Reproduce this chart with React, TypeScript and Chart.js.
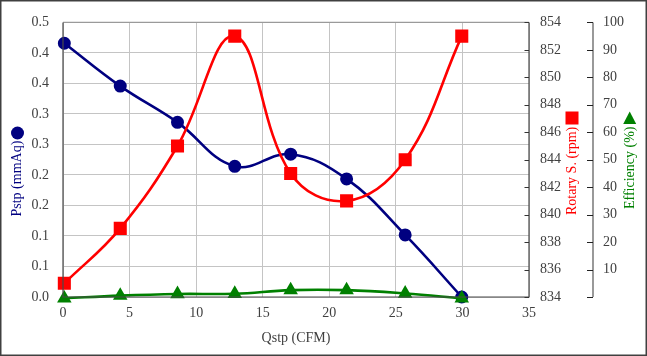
import React, { useEffect, useRef } from "react";
import { Chart, registerables } from "chart.js";

Chart.register(...registerables);

// ---- data ----
const qstp = [0.1, 4.3, 8.6, 12.9, 17.1, 21.3, 25.7, 29.95];
const pstp = [0.462, 0.384, 0.318, 0.238, 0.26, 0.215, 0.113, 0.0];
const rotarySpeed = [835, 839, 845, 853, 843, 841, 844, 853];
const efficiency = [-0.5, 0.5, 1.1, 1.2, 2.5, 2.5, 1.3, -0.5];

const pstpTickLabels = ["0.0", "0.1", "0.1", "0.2", "0.2", "0.3", "0.3", "0.4", "0.4", "0.5"];
const effTickLabels = ["", "10", "20", "30", "40", "50", "60", "70", "80", "90", "100"];

const FONT = "'Liberation Serif', 'Times New Roman', serif";
const NAVY = "#000080";
const RED = "#FF0000";
const GREEN = "#008000";
const TEXT = "#404040";
const GRID = "#c4c4c4";

function vText(ctx: CanvasRenderingContext2D, text: string, cx: number, bottomY: number, color: string) {
  ctx.save();
  ctx.translate(cx, bottomY);
  ctx.rotate(-Math.PI / 2);
  ctx.fillStyle = color;
  ctx.font = `14px ${FONT}`;
  ctx.textAlign = "left";
  ctx.textBaseline = "middle";
  ctx.fillText(text, 0, 0);
  ctx.restore();
}

const decor = {
  id: "decor",
  afterDraw(chart: any) {
    const ctx: CanvasRenderingContext2D = chart.ctx;
    const a = chart.chartArea;
    ctx.save();
    // plot border: top lighter, others dark
    ctx.strokeStyle = "#9a9a9a";
    ctx.lineWidth = 1.2;
    ctx.beginPath();
    ctx.moveTo(a.left, a.top);
    ctx.lineTo(a.right, a.top);
    ctx.stroke();
    ctx.strokeStyle = "#4a4a4a";
    ctx.beginPath();
    ctx.moveTo(a.right, a.top);
    ctx.lineTo(a.right, a.bottom);
    ctx.lineTo(a.left, a.bottom);
    ctx.lineTo(a.left, a.top);
    ctx.stroke();

    // rpm inward ticks
    const rpm = chart.scales.rpm;
    ctx.strokeStyle = "#333";
    ctx.lineWidth = 1;
    ctx.beginPath();
    rpm.ticks.forEach((t: any) => {
      const y = Math.round(rpm.getPixelForValue(t.value)) + 0.5;
      ctx.moveTo(a.right - 4.5, y);
      ctx.lineTo(a.right, y);
    });
    ctx.stroke();

    // efficiency axis line and ticks
    const eff = chart.scales.eff;
    const ex = eff.left;
    ctx.strokeStyle = "#808080";
    ctx.lineWidth = 1.6;
    ctx.beginPath();
    ctx.moveTo(ex, eff.getPixelForValue(100));
    ctx.lineTo(ex, eff.getPixelForValue(0));
    ctx.stroke();
    ctx.strokeStyle = "#222";
    ctx.lineWidth = 1.2;
    ctx.beginPath();
    eff.ticks.forEach((t: any) => {
      const y = Math.round(eff.getPixelForValue(t.value)) + 0.5;
      ctx.moveTo(ex - 6, y);
      ctx.lineTo(ex, y);
    });
    ctx.stroke();

    // axis titles with markers
    vText(ctx, "Pstp (mmAq)", 17.5, 216.5, NAVY);
    ctx.fillStyle = NAVY;
    ctx.beginPath();
    ctx.arc(17.5, 133, 6.5, 0, Math.PI * 2);
    ctx.fill();

    vText(ctx, "Rotary S. (rpm)", 572, 215, RED);
    ctx.fillStyle = RED;
    ctx.fillRect(565.5, 111.5, 13, 13);

    vText(ctx, "Efficiency (%)", 630, 209, GREEN);
    ctx.fillStyle = GREEN;
    ctx.beginPath();
    ctx.moveTo(629.7, 111.5);
    ctx.lineTo(636.2, 124);
    ctx.lineTo(623.2, 124);
    ctx.closePath();
    ctx.fill();

    ctx.fillStyle = TEXT;
    ctx.font = `14px ${FONT}`;
    ctx.textAlign = "center";
    ctx.textBaseline = "middle";
    ctx.fillText("Qstp (CFM)", (a.left + a.right) / 2, 338);

    // outer frame
    ctx.strokeStyle = "#404040";
    ctx.lineWidth = 1.5;
    ctx.strokeRect(0.75, 0.75, chart.width - 1.5, chart.height - 1.5);
    ctx.restore();
  },
};

export default function App() {
  const ref = useRef<HTMLCanvasElement | null>(null);

  useEffect(() => {
    document.body.style.margin = "0";
    const canvas = ref.current;
    if (!canvas) return;
    const tickFont = { family: FONT, size: 14 };
    const chart = new Chart(canvas, {
      type: "line",
      data: {
        datasets: [
          {
            label: "Pstp",
            data: qstp.map((x, i) => ({ x, y: pstp[i] })),
            yAxisID: "y",
            borderColor: NAVY,
            backgroundColor: NAVY,
            borderWidth: 2.6,
            pointStyle: "circle",
            pointRadius: 5.2,
            tension: 0.4,
            order: 2,
            clip: false,
          },
          {
            label: "Rotary S.",
            data: qstp.map((x, i) => ({ x, y: rotarySpeed[i] })),
            yAxisID: "rpm",
            borderColor: RED,
            backgroundColor: RED,
            borderWidth: 2.6,
            pointStyle: "rect",
            pointRadius: 7.4,
            tension: 0.4,
            order: 1,
            clip: false,
          },
          {
            label: "Efficiency",
            data: qstp.map((x, i) => ({ x, y: efficiency[i] })),
            yAxisID: "eff",
            borderColor: GREEN,
            backgroundColor: GREEN,
            borderWidth: 2.6,
            pointStyle: "triangle",
            pointRadius: 5.8,
            tension: 0.4,
            order: 0,
            clip: false,
          },
        ],
      },
      options: {
        responsive: false,
        animation: false,
        devicePixelRatio: 1,
        layout: { padding: { top: 18, left: 0, right: 0, bottom: 0 } },
        plugins: { legend: { display: false }, tooltip: { enabled: false } },
        scales: {
          x: {
            type: "linear",
            min: 0,
            max: 35,
            ticks: { stepSize: 5, color: TEXT, font: tickFont, padding: 8 },
            grid: { color: GRID, drawTicks: false },
            border: { display: false },
            afterFit: (s: any) => {
              s.height = 59;
            },
          },
          y: {
            type: "linear",
            position: "left",
            min: 0,
            max: 0.5,
            afterBuildTicks: (s: any) => {
              s.ticks = pstpTickLabels.map((_, i) => ({ value: (i * 0.5) / 9 }));
            },
            ticks: {
              color: TEXT,
              font: tickFont,
              padding: 14,
              callback: (_v: any, i: number) => pstpTickLabels[i],
            },
            grid: { color: GRID, drawTicks: false },
            border: { display: false },
            afterFit: (s: any) => {
              s.width = 63;
            },
          },
          rpm: {
            type: "linear",
            position: "right",
            weight: 0,
            min: 834,
            max: 854,
            ticks: { stepSize: 2, color: TEXT, font: tickFont, padding: 11 },
            grid: { drawOnChartArea: false, drawTicks: false },
            border: { display: false },
            afterFit: (s: any) => {
              s.width = 64;
            },
          },
          eff: {
            type: "linear",
            position: "right",
            weight: 1,
            min: 0,
            max: 100,
            ticks: {
              stepSize: 10,
              color: TEXT,
              font: tickFont,
              padding: 10,
              callback: (_v: any, i: number) => effTickLabels[i],
            },
            grid: { drawOnChartArea: false, drawTicks: false },
            border: { display: false },
            afterFit: (s: any) => {
              s.width = 54;
            },
          },
        },
      },
      plugins: [decor],
    } as any);
    return () => chart.destroy();
  }, []);

  return (
    <div style={{ width: 647, height: 356 }}>
      <canvas ref={ref} width={647} height={356} style={{ display: "block" }} />
    </div>
  );
}
